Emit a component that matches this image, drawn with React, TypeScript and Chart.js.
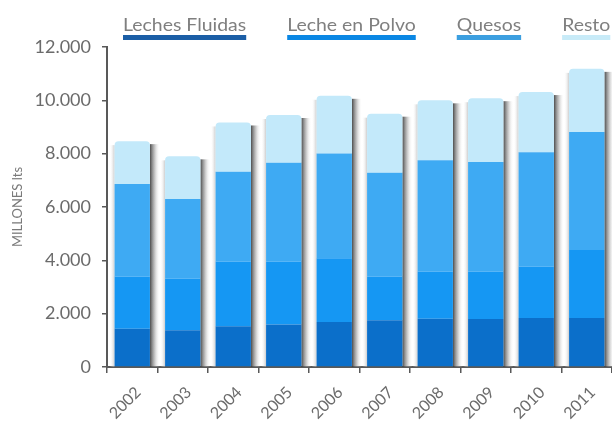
import { useEffect, useRef } from "react";
import { Chart, registerables } from "chart.js";

Chart.register(...registerables);

// Annual dairy production, millions of litres, split by product
const years = ["2002", "2003", "2004", "2005", "2006", "2007", "2008", "2009", "2010", "2011"];
const lechesFluidas = [1430, 1375, 1525, 1590, 1690, 1750, 1810, 1800, 1840, 1840];
const lecheEnPolvo = [1965, 1935, 2430, 2365, 2390, 1645, 1770, 1780, 1930, 2550];
const quesos = [3465, 2990, 3365, 3700, 3925, 3885, 4175, 4110, 4285, 4425];
const resto = [1610, 1600, 1850, 1795, 2165, 2220, 2245, 2390, 2255, 2365];

const seriesLabels = ["Leches Fluidas", "Leche en Polvo", "Quesos", "Resto"];
const barColors = ["#0b6fca", "#1597f3", "#3eaaf3", "#c3e9fa"];
const legendColors = ["#1b5ea6", "#0a87e4", "#3c9fe0", "#c8ebf8"];

const FONT = "Lato, 'Open Sans', sans-serif";

const fmtThousands = (v: number) => String(v).replace(/\B(?=(\d{3})+(?!\d))/g, ".");

// Soft grey shading on both sides of each stacked column
const barShadow = {
  id: "barShadow",
  beforeDatasetsDraw(chart: any) {
    const ctx = chart.ctx as CanvasRenderingContext2D;
    const metas = chart.getSortedVisibleDatasetMetas();
    const topMeta = metas[metas.length - 1];
    const base = chart.scales.y.getPixelForValue(0);
    topMeta.data.forEach((el: any) => {
      const { x, y, width } = el.getProps(["x", "y", "width"], true);
      const r = x + width / 2;
      const l = x - width / 2;
      ctx.save();
      let g = ctx.createLinearGradient(r, 0, r + 10, 0);
      g.addColorStop(0, "rgba(55,55,55,0.9)");
      g.addColorStop(0.45, "rgba(140,140,140,0.55)");
      g.addColorStop(1, "rgba(255,255,255,0)");
      ctx.fillStyle = g;
      ctx.fillRect(r, y + 3, 10, base - y - 3);
      g = ctx.createLinearGradient(l - 5, 0, l, 0);
      g.addColorStop(0, "rgba(255,255,255,0)");
      g.addColorStop(1, "rgba(170,170,170,0.6)");
      ctx.fillStyle = g;
      ctx.fillRect(l - 5, y + 4, 5, base - y - 4);
      ctx.restore();
    });
  },
};

// Legend drawn above the plot: label text with a coloured underline
const topLegend = {
  id: "topLegend",
  afterDraw(chart: any) {
    const ctx = chart.ctx as CanvasRenderingContext2D;
    const stretch = 1.08;
    ctx.save();
    ctx.font = `18px ${FONT}`;
    ctx.textBaseline = "alphabetic";
    ctx.textAlign = "left";
    let x = chart.chartArea.left + 16;
    chart.data.datasets.forEach((ds: any, i: number) => {
      const w = ctx.measureText(ds.label).width * stretch;
      ctx.save();
      ctx.translate(x, 31);
      ctx.scale(stretch, 1);
      ctx.fillStyle = "#7f7f7f";
      ctx.fillText(ds.label, 0, 0);
      ctx.restore();
      ctx.fillStyle = legendColors[i];
      ctx.fillRect(x, 35, w, 5);
      x += w + 41;
    });
    ctx.restore();
  },
};

export default function App() {
  const canvasRef = useRef<HTMLCanvasElement | null>(null);

  useEffect(() => {
    if (!canvasRef.current) return;
    const values = [lechesFluidas, lecheEnPolvo, quesos, resto];
    const chart = new Chart(canvasRef.current, {
      type: "bar",
      data: {
        labels: years,
        datasets: values.map((data, i) => ({
          label: seriesLabels[i],
          data,
          backgroundColor: barColors[i],
          borderWidth: 0,
          borderRadius: i === values.length - 1 ? { topLeft: 4, topRight: 4, bottomLeft: 0, bottomRight: 0 } : 0,
          borderSkipped: i === values.length - 1 ? "start" : false,
          categoryPercentage: 1,
          barPercentage: 0.7,
        })),
      },
      options: {
        animation: false,
        responsive: false,
        layout: { padding: { top: 47, right: 0, left: 0, bottom: 0 } },
        plugins: { legend: { display: false }, tooltip: { enabled: false } },
        scales: {
          x: {
            stacked: true,
            grid: { drawOnChartArea: false, drawTicks: true, tickLength: 6, color: "#595959", lineWidth: 1.5, offset: true },
            border: { color: "#595959", width: 2 },
            ticks: {
              color: "#6b6b6b",
              font: { family: FONT, size: 16 },
              minRotation: 45,
              maxRotation: 45,
              padding: 10,
              labelOffset: 6,
            },
            afterFit: (s: any) => {
              s.height = 56;
            },
          },
          y: {
            stacked: true,
            min: 0,
            max: 12000,
            ticks: {
              stepSize: 2000,
              callback: (v: any) => fmtThousands(Number(v)),
              color: "#6b6b6b",
              font: { family: FONT, size: 18 },
              padding: 11,
            },
            grid: { drawOnChartArea: false, tickLength: 5, color: "#595959", lineWidth: 1.5 },
            border: { color: "#595959", width: 2 },
            title: {
              display: true,
              text: "MILLONES lts",
              color: "#7a7a7a",
              font: { family: FONT, size: 13 },
              padding: { top: 10, bottom: 0 },
            },
            afterFit: (s: any) => {
              s.width = 107;
            },
          },
        },
      },
      plugins: [barShadow, topLegend],
    });
    return () => chart.destroy();
  }, []);

  return (
    <div style={{ position: "absolute", left: 0, top: 0, width: 612, height: 423, background: "#fff", overflow: "hidden" }}>
      <canvas ref={canvasRef} width={612} height={423} style={{ display: "block" }} />
    </div>
  );
}
